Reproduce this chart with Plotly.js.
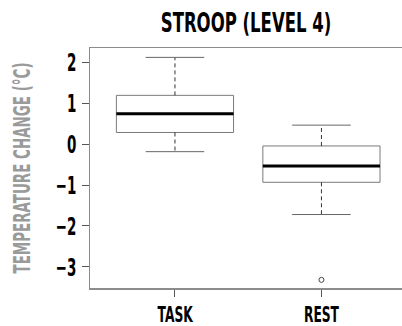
<!DOCTYPE html>
<html>
<head>
<meta charset="utf-8">
<script src="https://cdn.plot.ly/plotly-3.0.1.min.js"></script>
<style>html,body{margin:0;padding:0;background:#fff;}#chart{width:402px;height:326px;}</style>
</head>
<body>
<div id="chart"></div>
<script>
// Data
const categories = ['TASK', 'REST'];
const lowerWhisker = [-0.18, -1.72];
const q1 = [0.29, -0.93];
const median = [0.75, -0.53];
const q3 = [1.20, -0.04];
const upperWhisker = [2.13, 0.47];
const outlierCategory = [1];
const outlierValue = [-3.32];
const yTicks = [-3, -2, -1, 0, 1, 2];

const FONT = '"DejaVu Sans Condensed", "DejaVu Sans", sans-serif';
const boxW = 0.8;
const capHalf = 0.2;
const pos = categories.map((c, i) => i);

const traces = [];
traces.push({
  type: 'box', x: pos, q1: q1, median: median, q3: q3,
  lowerfence: q1, upperfence: q3, width: boxW, whiskerwidth: 0,
  fillcolor: 'rgba(255,255,255,0)', line: {color: '#7a7a7a', width: 1},
  boxpoints: false, hoverinfo: 'skip', showlegend: false
});
pos.forEach((p, i) => {
  traces.push({type: 'scatter', mode: 'lines', x: [p, p], y: [q3[i], upperWhisker[i]],
    line: {color: '#333', width: 1, dash: '4px,3px'}, showlegend: false, hoverinfo: 'skip'});
  traces.push({type: 'scatter', mode: 'lines', x: [p, p], y: [q1[i], lowerWhisker[i]],
    line: {color: '#333', width: 1, dash: '4px,3px'}, showlegend: false, hoverinfo: 'skip'});
  traces.push({type: 'scatter', mode: 'lines', x: [p - capHalf, p + capHalf], y: [upperWhisker[i], upperWhisker[i]],
    line: {color: '#666', width: 1}, showlegend: false, hoverinfo: 'skip'});
  traces.push({type: 'scatter', mode: 'lines', x: [p - capHalf, p + capHalf], y: [lowerWhisker[i], lowerWhisker[i]],
    line: {color: '#666', width: 1}, showlegend: false, hoverinfo: 'skip'});
  traces.push({type: 'scatter', mode: 'lines', x: [p - boxW / 2, p + boxW / 2], y: [median[i], median[i]],
    line: {color: '#000', width: 3}, showlegend: false, hoverinfo: 'skip'});
});
traces.push({type: 'scatter', mode: 'markers', x: outlierCategory, y: outlierValue,
  marker: {symbol: 'circle-open', size: 5, color: '#444', line: {width: 1}}, showlegend: false, hoverinfo: 'skip'});

const layout = {
  width: 402, height: 326,
  margin: {l: 90, r: 0, t: 48, b: 38},
  paper_bgcolor: '#fff', plot_bgcolor: '#fff',
  title: {text: 'STROOP (LEVEL 4)', x: 0.5, xref: 'paper', y: 0.93, yref: 'container', yanchor: 'middle',
    font: {family: FONT, size: 27, color: '#000', weight: 'bold'}},
  xaxis: {
    range: [-0.58, 1.55], tickvals: pos, ticktext: categories,
    showgrid: false, zeroline: false, showline: true, mirror: true,
    linecolor: '#8c8c8c', linewidth: 1.5,
    ticks: 'outside', ticklen: 7, tickcolor: '#555', tickwidth: 1,
    tickfont: {family: FONT, size: 21, color: '#000', weight: 'bold'}
  },
  yaxis: {
    range: [-3.52, 2.36], tickvals: yTicks,
    showgrid: false, zeroline: false, showline: true,
    linecolor: '#8c8c8c', linewidth: 1.5,
    ticks: 'outside', ticklen: 7, tickcolor: '#555', tickwidth: 1,
    tickfont: {family: FONT, size: 25, color: '#000', weight: 'bold'},
    title: {text: 'TEMPERATURE CHANGE (°C)', standoff: 5,
      font: {family: FONT, size: 23, color: '#9a9a9a', weight: 'bold'}}
  }
};

// condense text horizontally (reference uses a very narrow display face)
function condense(sel, s, anchor) {
  document.querySelectorAll(sel).forEach(el => {
    const b = el.getBBox();
    const cx = anchor === 'end' ? b.x + b.width : b.x + b.width / 2;
    const cy = b.y + b.height / 2;
    const t = el.getAttribute('transform') || '';
    el.setAttribute('transform', t + ` translate(${cx},${cy}) scale(${s},1) translate(${-cx},${-cy})`);
  });
}

Plotly.newPlot('chart', traces, layout, {staticPlot: true, displayModeBar: false}).then(() => {
  condense('.gtitle', 0.68, 'middle');
  condense('.xtick text', 0.65, 'middle');
  condense('.ytick text', 0.6, 'end');
  condense('.ytitle', 0.65, 'middle');
});
</script>
</body>
</html>
